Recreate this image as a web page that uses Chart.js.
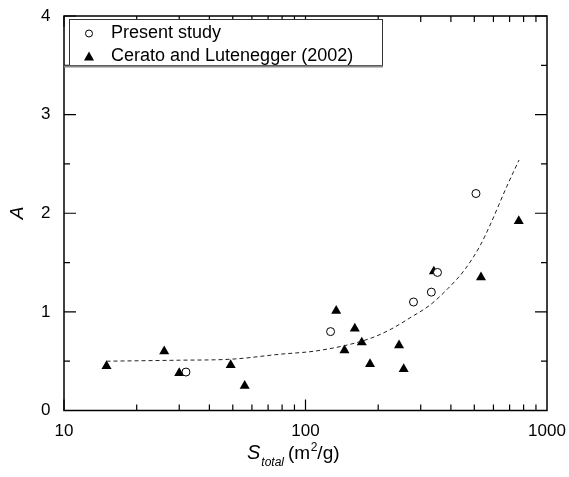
<!DOCTYPE html>
<html>
<head>
<meta charset="utf-8">
<script src="https://cdn.jsdelivr.net/npm/chart.js@4.4.1/dist/chart.umd.min.js"></script>
<style>
  html, body { margin: 0; padding: 0; background: #fff; }
  #wrap { width: 569px; height: 477px; }
</style>
</head>
<body>
<div id="wrap"><canvas id="chart"></canvas></div>
<script>
// Present study (S_total, A)
const presentS = [32, 127, 280, 332, 352, 508];
const presentA = [0.39, 0.80, 1.10, 1.20, 1.40, 2.20];

// Cerato and Lutenegger (2002)
const ceratoS = [15, 26, 30, 49, 56, 134, 145, 160, 171, 185, 244, 255, 340, 533, 764];
const ceratoA = [0.45, 0.60, 0.38, 0.46, 0.25, 1.01, 0.61, 0.83, 0.69, 0.47, 0.66, 0.42, 1.41, 1.35, 1.92];

// dashed trend curve
const curveS = [15, 30, 49, 78, 115, 185, 228, 271, 328, 390, 457, 528, 581, 681, 766];
const curveA = [0.50, 0.51, 0.52, 0.57, 0.61, 0.73, 0.83, 0.94, 1.07, 1.24, 1.43, 1.67, 1.88, 2.27, 2.54];

const xTicks = [10, 100, 1000];
const yTicks = [0, 1, 2, 3, 4];

const FONT = "'Liberation Sans', Arial, Helvetica, sans-serif";

function pts(xs, ys) {
  return xs.map((x, i) => ({ x: x, y: ys[i] }));
}

// inward ticks, tick labels, frame, legend and axis titles
const decorations = {
  id: "decorations",
  afterDraw(chart) {
    const ctx = chart.ctx;
    const a = chart.chartArea;
    const xs = chart.scales.x;
    const ys = chart.scales.y;
    ctx.save();
    ctx.strokeStyle = "#000";
    ctx.lineWidth = 1.5;
    ctx.strokeRect(a.left, a.top, a.right - a.left, a.bottom - a.top);

    ctx.lineWidth = 1.2;
    ctx.beginPath();
    // x ticks top and bottom
    for (let dec = 10; dec < 1000; dec *= 10) {
      for (let m = 1; m <= 9; m++) {
        const v = dec * m;
        const px = xs.getPixelForValue(v);
        const len = m === 1 ? 11 : 6;
        ctx.moveTo(px, a.bottom); ctx.lineTo(px, a.bottom - len);
        ctx.moveTo(px, a.top); ctx.lineTo(px, a.top + len);
      }
    }
    // y ticks left and right
    for (let v = 0; v <= 4; v += 0.5) {
      const py = ys.getPixelForValue(v);
      const len = Number.isInteger(v) ? 12 : 6;
      ctx.moveTo(a.left, py); ctx.lineTo(a.left + len, py);
      ctx.moveTo(a.right, py); ctx.lineTo(a.right - len, py);
    }
    ctx.stroke();

    // tick labels
    ctx.fillStyle = "#000";
    ctx.font = "17px " + FONT;
    ctx.textBaseline = "middle";
    ctx.textAlign = "right";
    yTicks.forEach((v) => ctx.fillText(String(v), 50.5, ys.getPixelForValue(v)));
    ctx.textAlign = "center";
    xTicks.forEach((v) => ctx.fillText(String(v), xs.getPixelForValue(v), 431));

    // legend box
    ctx.fillStyle = "#fff";
    ctx.fillRect(69.5, 19.5, 313, 46);
    ctx.strokeStyle = "#333";
    ctx.lineWidth = 1;
    ctx.strokeRect(69.5, 19.5, 313, 46);
    ctx.strokeStyle = "#888";
    ctx.lineWidth = 2;
    ctx.beginPath();
    ctx.moveTo(a.left, 66.5); ctx.lineTo(383, 66.5);
    ctx.stroke();

    // legend markers
    ctx.strokeStyle = "#000";
    ctx.lineWidth = 1;
    ctx.fillStyle = "#fff";
    ctx.beginPath();
    ctx.arc(89, 33.5, 3.5, 0, Math.PI * 2);
    ctx.fill(); ctx.stroke();
    ctx.fillStyle = "#000";
    ctx.beginPath();
    ctx.moveTo(89, 51.5); ctx.lineTo(94, 60.5); ctx.lineTo(84, 60.5);
    ctx.closePath(); ctx.fill();

    ctx.font = "18px " + FONT;
    ctx.textBaseline = "middle";
    ctx.textAlign = "left";
    ctx.fillText("Present study", 111, 33.5);
    ctx.fillText("Cerato and Lutenegger (2002)", 111, 56.5);

    // y title
    ctx.save();
    ctx.translate(18, 213);
    ctx.rotate(-Math.PI / 2);
    ctx.textAlign = "center";
    ctx.font = "italic 19px " + FONT;
    ctx.fillText("A", 0, 0);
    ctx.restore();

    // x title: S_total (m2/g)
    ctx.textBaseline = "alphabetic";
    let x = 247;
    ctx.font = "italic 20px " + FONT;
    ctx.fillText("S", x, 459);
    x += ctx.measureText("S").width + 1;
    ctx.font = "italic 12px " + FONT;
    ctx.fillText("total", x, 466);
    x += ctx.measureText("total").width + 4;
    ctx.font = "19px " + FONT;
    ctx.fillText("(m", x, 459);
    x += ctx.measureText("(m").width + 0.5;
    ctx.font = "12px " + FONT;
    ctx.fillText("2", x, 451);
    x += ctx.measureText("2").width;
    ctx.font = "19px " + FONT;
    ctx.fillText("/g)", x, 459);
    ctx.restore();
  }
};

new Chart(document.getElementById("chart"), {
  type: "scatter",
  data: {
    datasets: [
      {
        label: "fit",
        type: "line",
        data: pts(curveS, curveA),
        borderColor: "#222",
        borderWidth: 1,
        borderDash: [4, 3],
        pointRadius: 0,
        cubicInterpolationMode: "monotone",
        fill: false,
      },
      {
        label: "Present study",
        data: pts(presentS, presentA),
        pointStyle: "circle",
        pointRadius: 4,
        backgroundColor: "#fff",
        borderColor: "#000",
        borderWidth: 1,
      },
      {
        label: "Cerato and Lutenegger (2002)",
        data: pts(ceratoS, ceratoA),
        pointStyle: "triangle",
        pointRadius: 5.8,
        backgroundColor: "#000",
        borderColor: "#000",
        borderWidth: 0,
      },
    ],
  },
  options: {
    responsive: true,
    maintainAspectRatio: false,
    animation: false,
    layout: { padding: { top: 16, right: 22, left: 0, bottom: 0 } },
    plugins: {
      legend: { display: false },
      tooltip: { enabled: false },
    },
    scales: {
      x: {
        type: "logarithmic",
        min: 10,
        max: 1000,
        grid: { display: false, drawTicks: false },
        border: { display: false },
        afterBuildTicks: (s) => { s.ticks = xTicks.map((v) => ({ value: v })); },
        afterFit: (s) => { s.height = 66.5; },
        ticks: { display: false },
      },
      y: {
        min: 0,
        max: 4,
        grid: { display: false, drawTicks: false },
        border: { display: false },
        afterBuildTicks: (s) => { s.ticks = yTicks.map((v) => ({ value: v })); },
        afterFit: (s) => { s.width = 64; },
        ticks: { display: false },
      },
    },
  },
  plugins: [decorations],
});
</script>
</body>
</html>
